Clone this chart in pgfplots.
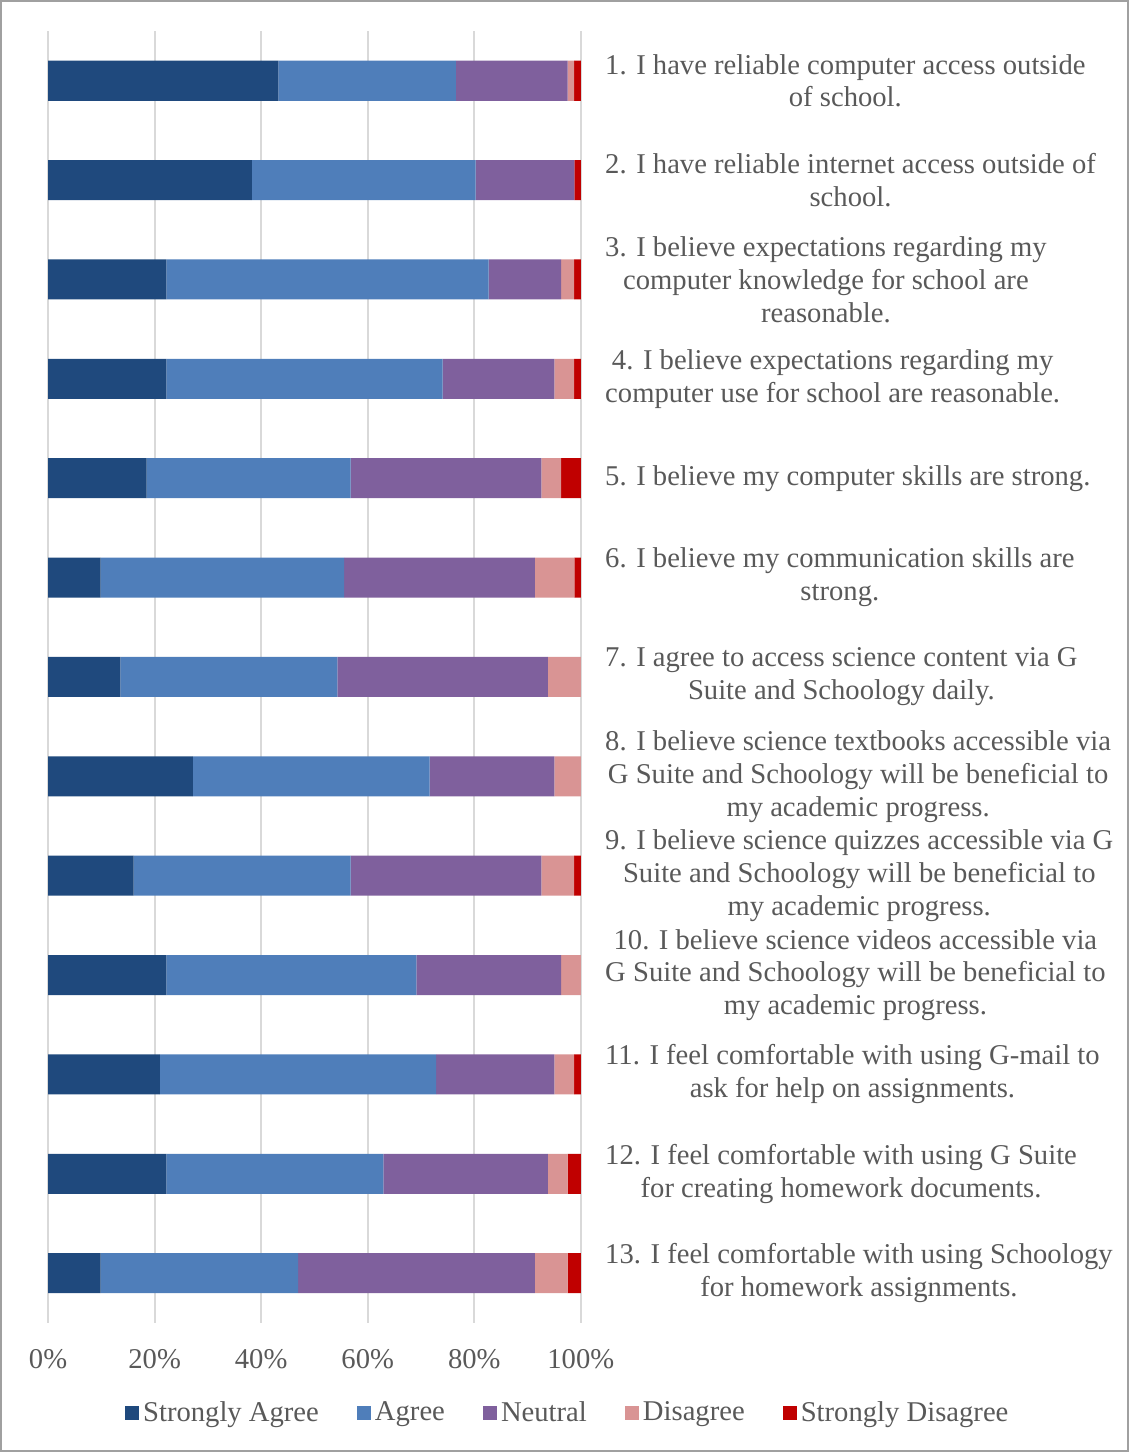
\documentclass[border=0pt]{standalone}
\usepackage{fontspec}
\setmainfont{Liberation Serif}
\usepackage{pgfplots}
\usepackage{pgfplotstable}
\pgfplotsset{compat=1.18}
\definecolor{cSA}{RGB}{31,73,125}
\definecolor{cA}{RGB}{79,126,186}
\definecolor{cN}{RGB}{127,96,157}
\definecolor{cD}{RGB}{217,148,148}
\definecolor{cSD}{RGB}{192,0,0}
\definecolor{txt}{RGB}{89,89,89}
\definecolor{grd}{RGB}{217,217,217}
\definecolor{frm}{RGB}{160,160,160}

\pgfplotstableread{
idx SA A N D SD
1 43.21 33.33 20.99 1.23 1.23
2 38.27 41.98 18.52 0.00 1.23
3 22.22 60.49 13.58 2.47 1.23
4 22.22 51.85 20.99 3.70 1.23
5 18.52 38.27 35.80 3.70 3.70
6 9.88 45.68 35.80 7.41 1.23
7 13.58 40.74 39.51 6.17 0.00
8 27.16 44.44 23.46 4.94 0.00
9 16.05 40.74 35.80 6.17 1.23
10 22.22 46.91 27.16 3.70 0.00
11 20.99 51.85 22.22 3.70 1.23
12 22.22 40.74 30.86 3.70 2.47
13 9.88 37.04 44.44 6.17 2.47
}\data

\newcommand{\lf}{\fontsize{14.3}{16.4}\selectfont}

\begin{document}
\begin{tikzpicture}
\begin{axis}[
  at={(0,0)}, anchor=south west,
  scale only axis, width=266pt, height=645pt,
  xbar stacked, bar width=20pt,
  xmin=0, xmax=100, ymin=0.5, ymax=13.5, y dir=reverse,
  axis line style={draw=none},
  major tick length=0pt,
  xmajorgrids, grid style={draw=grd, line width=1pt},
  xtick={0,20,40,60,80,100},
  xticklabel={\pgfmathprintnumber{\tick}\%},
  xticklabel style={yshift=-10pt},
  /pgf/number format/assume math mode=true,
  tick label style={font=\lf, text=txt},
  ytick={1,2,3,4,5,6,7,8,9,10,11,12,13},
  yticklabel pos=right,
  yticklabel style={anchor=west, align=center, inner sep=0pt, xshift=12pt},
  yticklabels={
    {1. I have reliable computer access outside\\of school.},
    {2. I have reliable internet access outside of\\school.},
    {3. I believe expectations regarding my\\computer knowledge for school are\\reasonable.},
    {4. I believe expectations regarding my\\computer use for school are reasonable.},
    {5. I believe my computer skills are strong.},
    {6. I believe my communication skills are\\strong.},
    {7. I agree to access science content via G\\Suite and Schoology daily.},
    {8. I believe science textbooks accessible via\\G Suite and Schoology will be beneficial to\\my academic progress.},
    {9. I believe science quizzes accessible via G\\Suite and Schoology will be beneficial to\\my academic progress.},
    {10. I believe science videos accessible via\\G Suite and Schoology will be beneficial to\\my academic progress.},
    {11. I feel comfortable with using G-mail to\\ask for help on assignments.},
    {12. I feel comfortable with using G Suite\\for creating homework documents.},
    {13. I feel comfortable with using Schoology\\for homework assignments.}
  },
  legend style={at={(0.9774,-0.0698)}, anchor=center, draw=none,
    legend columns=5, font=\lf, text=txt,
    /tikz/every even column/.append style={column sep=17pt}},
  legend image code/.code={\fill[#1] (0pt,-3.5pt) rectangle (7pt,3.5pt);},
]
\addplot[fill=cSA, draw=none] table[x=SA, y=idx]{\data};
\addplot[fill=cA, draw=none] table[x=A, y=idx]{\data};
\addplot[fill=cN, draw=none] table[x=N, y=idx]{\data};
\addplot[fill=cD, draw=none] table[x=D, y=idx]{\data};
\addplot[fill=cSD, draw=none] table[x=SD, y=idx]{\data};
\legend{Strongly Agree, Agree, Neutral, Disagree, Strongly Disagree}
\end{axis}
\pgfresetboundingbox
\draw[frm, line width=1pt] (-23.5pt,-64pt) rectangle (539pt,660pt);
\end{tikzpicture}
\end{document}
